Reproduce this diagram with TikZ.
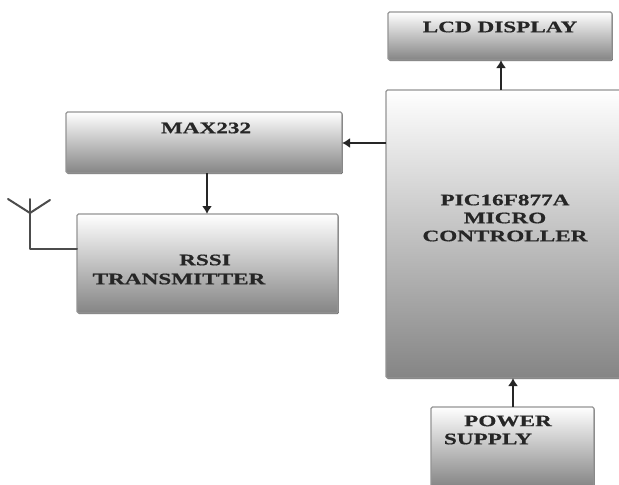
\documentclass[tikz,border=0pt]{standalone}
\usepackage{fontspec}
\newfontfamily\lblfont[FakeStretch=1.45,FakeBold=0.6]{Liberation Serif Bold}
\usetikzlibrary{arrows.meta,shadows}
\tikzset{
  x=1pt,y=-1pt,
  block/.style={rectangle,rounded corners=1.5pt,inner sep=0pt,outer sep=0pt,draw=black!42,line width=1.3pt,
    top color=white,bottom color=black!48,
    general shadow={shadow xshift=0.8pt,shadow yshift=-1.2pt,fill=black!55}},
  lbl/.style={inner sep=0pt,font=\lblfont\fontsize{16}{19}\selectfont,text=black!85},
  link/.style={draw=black!85,line width=2.5pt,-{Latex[length=8pt,width=10pt]}},
  wire/.style={draw=black!70,line width=2pt,line cap=round,line join=round}
}
\begin{document}
\begin{tikzpicture}
\useasboundingbox (0,0) rectangle (619,485);
\node[block,minimum width=224pt,minimum height=48pt] (lcd) at (500,36) {};
\node[block,minimum width=236pt,minimum height=288pt] (pic) at (504,234) {};
\node[block,minimum width=276pt,minimum height=61pt] (max) at (204,142.5) {};
\node[block,minimum width=261pt,minimum height=99pt] (rssi) at (207.5,263.5) {};
\node[block,minimum width=163pt,minimum height=80pt] (power) at (512.5,447) {};
\node[lbl] (lcdtext) at (500,27) {LCD DISPLAY};
\node[lbl] (maxtext) at (206,128) {MAX232};
\node[lbl] (rssitext) at (205,260) {RSSI};
\node[lbl] (rssitext2) at (179,279) {TRANSMITTER};
\node[lbl] (pictext) at (505,200) {PIC16F877A};
\node[lbl] (pictext2) at (505,218) {MICRO};
\node[lbl] (pictext3) at (505,236) {CONTROLLER};
\node[lbl] (powertext) at (508,421) {POWER};
\node[lbl] (powertext2) at (488,439) {SUPPLY};
\coordinate (xlcd) at (501,0);
\coordinate (ymax) at (0,143);
\coordinate (xmax) at (207,0);
\coordinate (xpow) at (513,0);
\coordinate (yant) at (0,249);
\coordinate (mast) at (30,213);
\coordinate (mtop) at (30,199);
\coordinate (tipl) at (8,199);
\coordinate (tipr) at (50,200);
\draw[link] (pic.north -| xlcd) -- (lcd.south -| xlcd);
\draw[link] (pic.west |- ymax) -- (max.east |- ymax);
\draw[link] (max.south -| xmax) -- (rssi.north -| xmax);
\draw[link] (power.north -| xpow) -- (pic.south -| xpow);
\draw[wire] (rssi.west |- yant) -| (mtop);
\draw[wire] (tipl) -- (mast) -- (tipr);
\end{tikzpicture}
\end{document}
